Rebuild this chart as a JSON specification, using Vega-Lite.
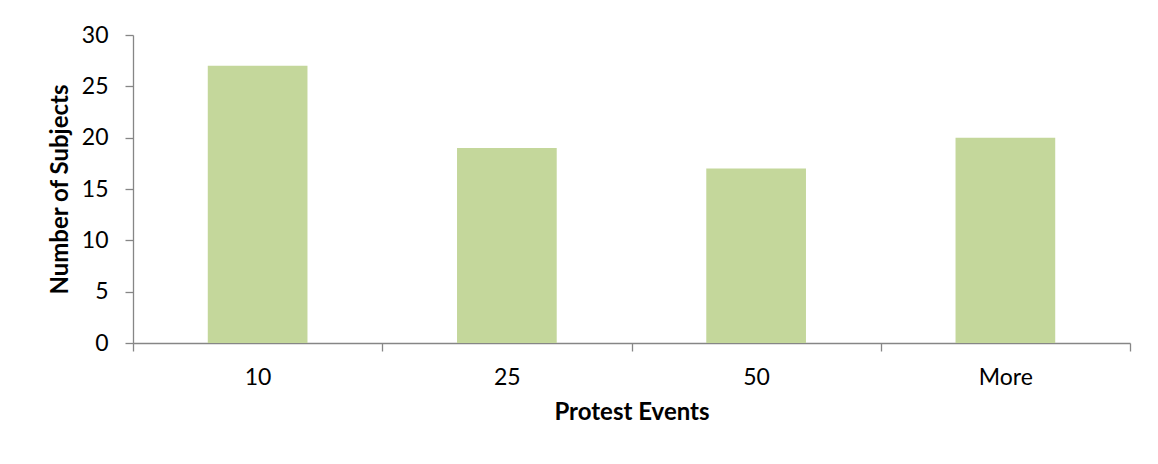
{
  "$schema": "https://vega.github.io/schema/vega-lite/v6.json",
  "autosize": "none",
  "width": 997,
  "height": 308,
  "padding": {"left": 133, "top": 35, "right": 28, "bottom": 121},
  "background": "white",
  "data": {"values": [
    {"events": "10", "subjects": 27},
    {"events": "25", "subjects": 19},
    {"events": "50", "subjects": 17},
    {"events": "More", "subjects": 20}
  ]},
  "mark": {"type": "bar", "color": "#C4D79B", "width": {"band": 0.4}},
  "encoding": {
    "x": {"field": "events", "type": "ordinal", "sort": null, "title": "Protest Events",
      "scale": {"paddingInner": 0, "paddingOuter": 0},
      "axis": {"labelAngle": 0, "tickBand": "extent", "tickSize": 8, "labelPadding": 15, "titlePadding": 11}},
    "y": {"field": "subjects", "type": "quantitative", "title": "Number of Subjects",
      "scale": {"domain": [0, 30]},
      "axis": {"values": [0, 5, 10, 15, 20, 25, 30], "grid": false, "tickSize": 8, "labelPadding": 17, "titlePadding": 9}}
  },
  "config": {
    "view": {"stroke": null},
    "font": "Lato",
    "axis": {
      "domainColor": "#868686",
      "tickColor": "#868686",
      "domainWidth": 1.3,
      "tickWidth": 1.3,
      "labelColor": "#000000",
      "titleColor": "#000000",
      "labelFont": "Lato",
      "titleFont": "Lato",
      "labelFontSize": 23,
      "titleFontSize": 24,
      "titleFontWeight": "bold",
      "labelFontWeight": "normal"
    }
  }
}
